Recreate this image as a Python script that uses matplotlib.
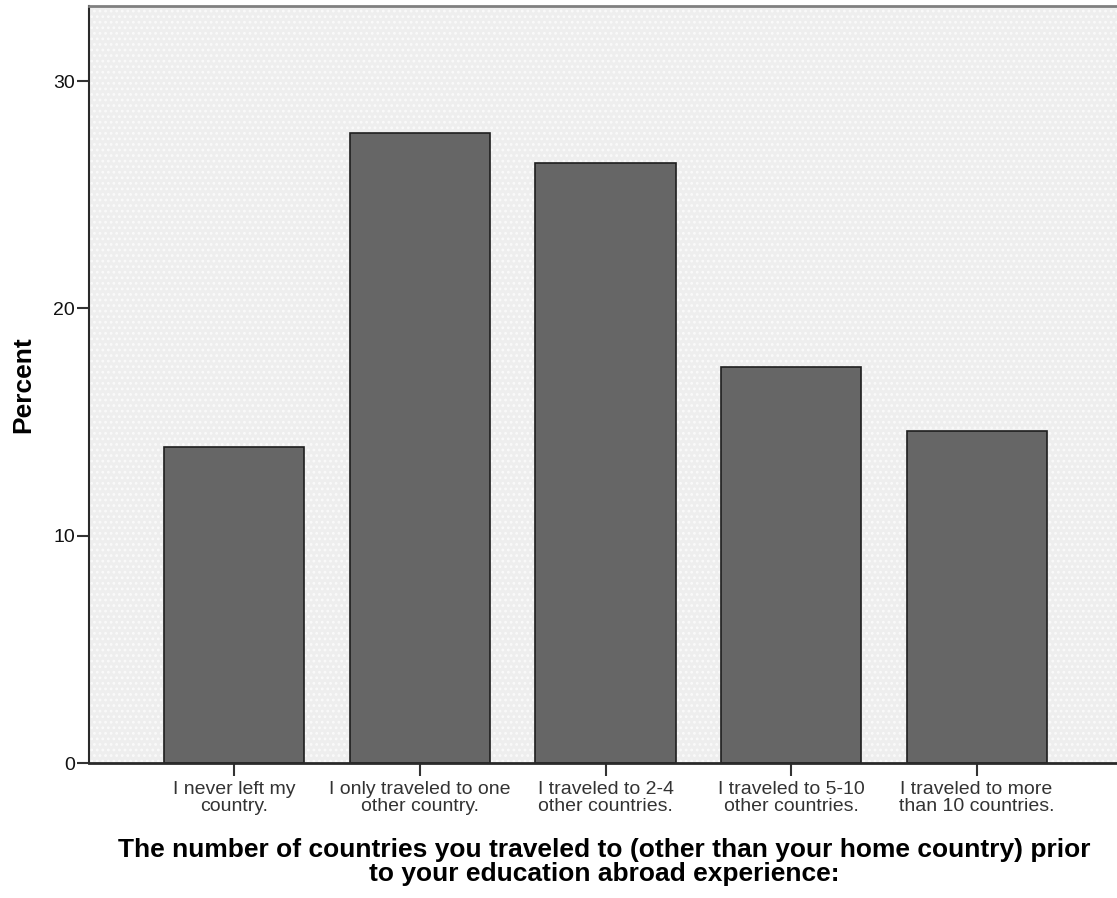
import matplotlib
matplotlib.use("Agg")
import matplotlib.pyplot as plt
from matplotlib.patches import Rectangle
import numpy as np

# values
categories = [
    "I never left my\ncountry.",
    "I only traveled to one\nother country.",
    "I traveled to 2-4\nother countries.",
    "I traveled to 5-10\nother countries.",
    "I traveled to more\nthan 10 countries.",
]
percent = [13.9, 27.7, 26.4, 17.4, 14.6]
y_ticks = [0, 10, 20, 30]
x_title = ("The number of countries you traveled to (other than your home country) prior\n"
           "to your education abroad experience:")

plt.rcParams['font.family'] = ['Liberation Sans', 'DejaVu Sans']
plt.rcParams['hatch.linewidth'] = 1.2

W, H = 1117, 898
fig = plt.figure(figsize=(W / 100, H / 100), dpi=100)

# plot area in pixels: left edge 89, top 6, bottom 763, runs off the right side
ax = fig.add_axes([89 / W, 1 - 763 / H, (W - 89) / W, (763 - 6) / H])
ax.set_facecolor('#eeeeee')

# dotted background like SPSS
bg = Rectangle((0, 0), 1, 1, transform=ax.transAxes, facecolor='#eeeeee',
               edgecolor='#fafafa', hatch='...', linewidth=0, zorder=0)
ax.add_patch(bg)

x = np.arange(len(categories))
ax.bar(x, percent, width=0.755, color='#666666', edgecolor='#1e1e1e',
       linewidth=1.2, zorder=2)

ax.set_xlim(-0.784, 4.757)
ax.set_ylim(0, 33.3)
ax.set_yticks(y_ticks)
ax.set_xticks(x)
ax.set_xticklabels(categories, fontsize=14, linespacing=1.0, color='#111111')
ax.tick_params(axis='y', labelsize=14, length=9, width=1.5, pad=1,
               colors='#333333', labelcolor='#111111')
ax.tick_params(axis='x', length=9, width=1.5, pad=4, colors='#333333')

for s in ['left', 'bottom']:
    ax.spines[s].set_color('#2a2a2a')
ax.spines['left'].set_linewidth(1.5)
ax.spines['bottom'].set_linewidth(2)
ax.spines['top'].set_color('#808080')
ax.spines['top'].set_linewidth(2)
ax.spines['right'].set_visible(False)

fig.text(23 / W, 1 - 385 / H, "Percent", rotation=90, ha='center', va='center',
         fontsize=19, fontweight='bold')
fig.text(604 / W, 1 - 838 / H, x_title, ha='center', va='top', fontsize=19,
         fontweight='bold', linespacing=1.0, multialignment='center')

fig.savefig("out.png", dpi=100)
